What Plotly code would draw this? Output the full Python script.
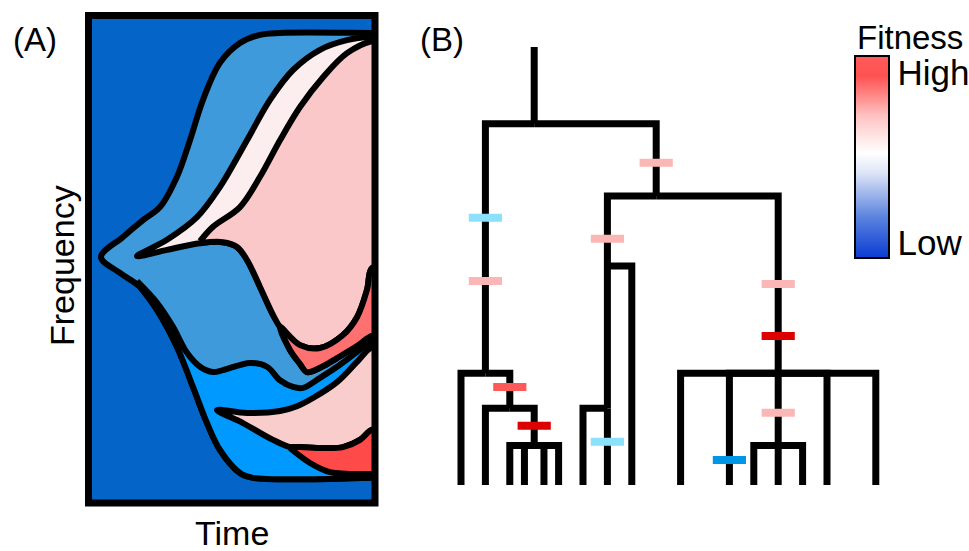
import plotly.graph_objects as go

PAGE_W, PAGE_H = 969, 551
FONT = "Liberation Sans, Arial, sans-serif"

# ---------------- Panel A : Muller plot (time in generations, frequency in %) -------------
# clone M (medium blue) outer envelope
m_top_t = [9, 31, 51, 68, 85, 98, 111, 128, 148, 168, 188, 280]
m_top_f = [50.5, 54.7, 58.2, 60.9, 67.2, 74.8, 83.2, 90.9, 95.0, 96.7, 97.1, 97.1]
m_bot_t = [9, 28, 48, 65, 85, 101, 115, 128, 148, 161, 280]
m_bot_f = [50.5, 47.2, 44.3, 39.5, 31.8, 23.5, 16.0, 10.4, 5.6, 4.6, 4.6]
# clone B (bright blue), lower edge shared with M
b_top_t = [45, 65, 81, 95, 108, 121, 131, 158, 175, 188, 201, 211, 228, 245, 265, 280]
b_top_f = [45.5, 41.0, 36.0, 30.6, 27.7, 26.6, 27.0, 28.5, 27.7, 24.9, 23.5, 23.3, 25.4, 27.7, 30.8, 33.1]
# clone W (white) family envelope
w_top_t = [45, 75, 105, 128, 155, 178, 201, 228, 255, 280]
w_top_f = [50.7, 54.1, 58.8, 65.1, 74.8, 83.2, 89.4, 93.6, 95.6, 96.3]
w_bot_t = [45, 75, 108, 131, 145, 155, 168, 181, 188, 198, 208, 215, 230, 245, 265, 280]
w_bot_f = [50.7, 52.0, 53.4, 53.6, 52.6, 49.9, 44.3, 38.5, 36.0, 31.2, 28.3, 26.6, 27.7, 29.5, 32.0, 34.1]
# clone P1 (pink)
p1_top_t = [108, 121, 148, 168, 188, 208, 231, 255, 280]
p1_top_f = [53.8, 56.8, 60.9, 67.2, 74.8, 81.7, 87.9, 92.9, 95.4]
p1_bot_t = [108, 131, 145, 155, 168, 181, 188, 208, 228, 251, 265, 275, 280]
p1_bot_f = [53.4, 53.6, 52.6, 49.9, 44.3, 38.5, 36.0, 32.2, 31.6, 34.3, 38.0, 43.7, 48.2]
# clone S1 (salmon)
s1_top_t = [188, 208, 228, 251, 265, 275, 280]
s1_top_f = [36.0, 32.2, 31.6, 34.3, 38.0, 43.7, 48.2]
s1_bot_t = [188, 198, 208, 215, 230, 245, 265, 280]
s1_bot_f = [36.0, 31.2, 28.3, 26.6, 27.7, 29.5, 32.0, 34.1]
# clone P2 (pink)
p2_top_t = [125, 155, 188, 205, 221, 245, 265, 280]
p2_top_f = [18.7, 18.1, 18.5, 19.5, 21.2, 24.5, 28.7, 31.8]
p2_bot_t = [125, 151, 181, 198, 208, 231, 251, 268, 280]
p2_bot_f = [18.7, 16.0, 12.5, 11.0, 11.0, 10.8, 11.0, 12.5, 14.6]
# clone R2 (red)
r2_bot_t = [198, 218, 238, 280]
r2_bot_f = [10.8, 7.7, 5.8, 5.4]

clone_colors = {
    "bg": "#0564C8", "M": "#3F9ADC", "B": "#0099FF", "W": "#FCEEEE",
    "P1": "#FAC8C8", "S1": "#FF7070", "P2": "#FACDCD", "R2": "#FF4A4A",
}

# ---------------- Panel B : tree ----------------
node_names = ["root", "A", "A1", "A2", "B", "B1", "B2", "C", "C1"]
node_parent = [None, "root", "A", "A1", "root", "B", "B1", "B", "C"]
node_x = [3.0, 1.0, 2.0, 3.0, 8.0, 6.0, 6.0, 13.0, 13.0]
node_depth = [1.75, 7.45, 8.25, 9.1, 3.4, 5.0, 8.25, 7.45, 9.1]
leaf_x = [0, 1, 2, 2.6, 3.4, 4, 5, 6, 7, 9, 11, 12, 13, 14, 15, 17]
leaf_parent = ["A", "A1", "A2", "A2", "A2", "A2", "B2", "B2", "B1",
               "C", "C", "C1", "C1", "C1", "C", "C"]
leaf_depth = 10.0
stem_top = 0.0

mut_x = [8.0, 1.0, 1.0, 6.0, 2.0, 3.0, 6.0, 13.0, 13.0, 13.0, 11.0]
mut_depth = [2.64, 3.90, 5.34, 4.38, 7.76, 8.65, 9.01, 5.41, 6.60, 8.35, 9.43]
mut_color = ["#FBB6B6", "#8CE1FA", "#FBB6B6", "#FBB6B6", "#FF5A5A", "#DC0000",
             "#8CE1FA", "#FBB6B6", "#DC0000", "#FBB6B6", "#0096E6"]

fitness_scale = [[0.0, "#0A3CD2"], [0.2, "#5A82DE"], [0.42, "#DCE4F6"], [0.52, "#FFFFFF"],
                 [0.7, "#FFC4C4"], [0.9, "#FF5252"], [1.0, "#FF5A5A"]]
fitness_ticks = [0.075, 0.915]
fitness_labels = ["Low", "High"]


def px_x(p):
    return p / PAGE_W


def px_y(p):
    return 1 - p / PAGE_H


fig = go.Figure()

T_OUT = 295


def clone_poly(ut, uf, lt, lf, color):
    xs = list(ut) + [T_OUT, T_OUT] + list(lt)[::-1]
    ys = list(uf) + [uf[-1], lf[-1]] + list(lf)[::-1]
    fig.add_trace(go.Scatter(
        x=xs, y=ys, mode="lines", fill="toself", fillcolor=color,
        line=dict(color="black", width=6, shape="spline", smoothing=1.0),
        hoverinfo="skip", showlegend=False, xaxis="x", yaxis="y"))


clone_poly(m_top_t, m_top_f, m_bot_t, m_bot_f, clone_colors["M"])
clone_poly(b_top_t, b_top_f, m_bot_t[2:], m_bot_f[2:], clone_colors["B"])
clone_poly(w_top_t, w_top_f, w_bot_t, w_bot_f, clone_colors["W"])
clone_poly(p1_top_t, p1_top_f, p1_bot_t, p1_bot_f, clone_colors["P1"])
clone_poly(s1_top_t, s1_top_f, s1_bot_t, s1_bot_f, clone_colors["S1"])
clone_poly(p2_top_t, p2_top_f, p2_bot_t, p2_bot_f, clone_colors["P2"])
clone_poly(p2_bot_t[3:], p2_bot_f[3:], r2_bot_t, r2_bot_f, clone_colors["R2"])

# colour bar carrier (off-range points)
fig.add_trace(go.Scatter(
    x=[-100, -100], y=[-100, -100], mode="markers",
    marker=dict(size=1, color=[0, 1], cmin=0, cmax=1, colorscale=fitness_scale,
                showscale=True,
                colorbar=dict(
                    x=px_x(855), xanchor="left", y=px_y(156.5), yanchor="middle",
                    thickness=34, thicknessmode="pixels", len=202, lenmode="pixels",
                    outlinewidth=2, outlinecolor="black", xpad=0, ypad=0,
                    tickvals=fitness_ticks, ticktext=fitness_labels, ticks="",
                    tickfont=dict(size=35, color="black", family=FONT))),
    hoverinfo="skip", showlegend=False, xaxis="x", yaxis="y"))

# ---- tree ----
pos = {n: (x, d) for n, x, d in zip(node_names, node_x, node_depth)}
tx, ty = [], []
for n, p in zip(node_names, node_parent):
    x, d = pos[n]
    if p is None:
        tx += [x, x, None]
        ty += [stem_top, d, None]
    else:
        px_, pd_ = pos[p]
        tx += [x, x, px_, None]
        ty += [d, pd_, pd_, None]
for x, p in zip(leaf_x, leaf_parent):
    px_, pd_ = pos[p]
    tx += [x, x, px_, None]
    ty += [leaf_depth, pd_, pd_, None]
fig.add_trace(go.Scatter(x=tx, y=ty, mode="lines", line=dict(color="black", width=7),
                         hoverinfo="skip", showlegend=False, xaxis="x2", yaxis="y2"))

half = 0.68
for col in dict.fromkeys(mut_color):
    mx, my = [], []
    for x, d, c in zip(mut_x, mut_depth, mut_color):
        if c == col:
            mx += [x - half, x + half, None]
            my += [d, d, None]
    fig.add_trace(go.Scatter(x=mx, y=my, mode="lines", line=dict(color=col, width=8),
                             hoverinfo="skip", showlegend=False, xaxis="x2", yaxis="y2"))

# ---- layout ----
UX, X0 = 24.4, 461.0
UY, Y0 = 43.8, 47.0
bx0, bx1, by0, by1 = 439.0, 901.0, 25.0, 500.0

fig.update_layout(
    width=PAGE_W, height=PAGE_H, margin=dict(l=0, r=0, t=0, b=0),
    paper_bgcolor="white", plot_bgcolor="rgba(0,0,0,0)",
    font=dict(family=FONT, color="black"),
    hovermode=False,
    xaxis=dict(domain=[px_x(92), px_x(372)], range=[0, 280], visible=False, fixedrange=True),
    yaxis=dict(domain=[px_y(500), px_y(19)], range=[0, 100], visible=False, fixedrange=True),
    xaxis2=dict(domain=[px_x(bx0), px_x(bx1)],
                range=[(bx0 - X0) / UX, (bx1 - X0) / UX], visible=False, fixedrange=True),
    yaxis2=dict(domain=[px_y(by1), px_y(by0)],
                range=[(by1 - Y0) / UY, (by0 - Y0) / UY], visible=False, fixedrange=True,
                anchor="x2"),
    shapes=[
        dict(type="rect", xref="paper", yref="paper", layer="below",
             x0=px_x(88.5), x1=px_x(375), y0=px_y(503), y1=px_y(15.5),
             fillcolor=clone_colors["bg"], line=dict(width=0)),
        dict(type="rect", xref="paper", yref="paper", layer="above",
             x0=px_x(88.5), x1=px_x(375), y0=px_y(503), y1=px_y(15.5),
             line=dict(color="black", width=7)),
    ],
    annotations=[
        dict(text="(A)", x=px_x(35), y=px_y(39), xref="paper", yref="paper",
             showarrow=False, font=dict(size=33), xanchor="center", yanchor="middle"),
        dict(text="(B)", x=px_x(442), y=px_y(39), xref="paper", yref="paper",
             showarrow=False, font=dict(size=33), xanchor="center", yanchor="middle"),
        dict(text="Frequency", x=px_x(62), y=px_y(265), xref="paper", yref="paper",
             showarrow=False, font=dict(size=34), textangle=-90,
             xanchor="center", yanchor="middle"),
        dict(text="Time", x=px_x(232), y=px_y(533), xref="paper", yref="paper",
             showarrow=False, font=dict(size=34), xanchor="center", yanchor="middle"),
        dict(text="Fitness", x=px_x(855), y=px_y(37), xref="paper", yref="paper",
             showarrow=False, font=dict(size=33), xanchor="left", yanchor="middle"),
    ],
)

fig.write_html("out.html",
               config={"displayModeBar": False, "staticPlot": True},
               post_script="document.body.style.margin='0';document.body.style.overflow='hidden';")
